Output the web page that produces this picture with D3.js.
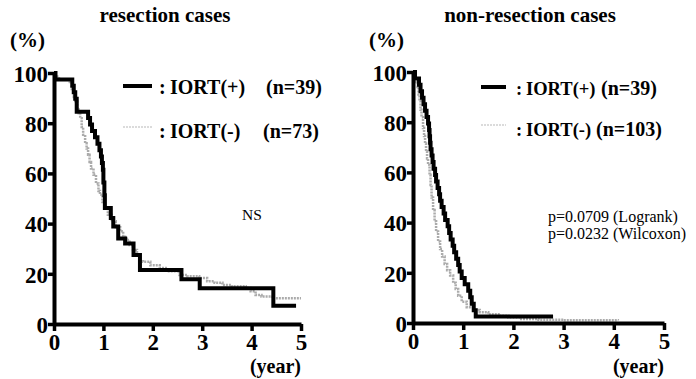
<!DOCTYPE html>
<html>
<head>
<meta charset="utf-8">
<script src="https://cdn.jsdelivr.net/npm/d3@7"></script>
<style>
    body { margin: 0; background: #fff; }
</style>
</head>
<body>
<div id="chart"></div>
<script>

// resection cases, IORT(+) n=39
var resPlusTime = [0, 0.03, 0.37, 0.40, 0.43, 0.46, 0.69, 0.73, 0.77, 0.83, 0.88, 0.92, 0.95, 0.97, 0.99, 1.00, 1.02, 1.03, 1.15, 1.20, 1.30, 1.44, 1.61, 1.74, 2.58, 2.95, 4.44, 4.90];
var resPlusSurv = [100, 97.4, 94.9, 92.3, 89.7, 84.6, 82.1, 79.5, 76.9, 74.4, 71.8, 69.2, 66.7, 64.1, 61.5, 56.4, 51.3, 46.2, 42.2, 38.8, 34.1, 32.1, 27.5, 21.5, 17.8, 14.2, 7.3, 7.3];

// resection cases, IORT(-) n=73
var resMinusTime = [0, 0.03, 0.10, 0.32, 0.36, 0.40, 0.43, 0.47, 0.50, 0.53, 0.56, 0.59, 0.63, 0.66, 0.69, 0.72, 0.75, 0.80, 0.85, 0.90, 0.93, 0.98, 1.03, 1.09, 1.17, 1.25, 1.34, 1.40, 1.47, 1.53, 1.60, 1.68, 1.75, 1.80, 1.95, 2.14, 2.30, 2.54, 2.70, 2.94, 3.10, 3.25, 3.41, 3.60, 3.88, 3.98, 4.08, 4.20, 4.42, 5.00];
var resMinusSurv = [100, 98.6, 97.3, 95.9, 93.0, 90.4, 88.8, 86.0, 84.0, 82.0, 78.5, 75.4, 72.0, 69.9, 67.4, 64.5, 62.0, 59.5, 56.0, 53.0, 51.5, 48.6, 46.2, 43.5, 40.9, 38.5, 37.0, 34.8, 33.5, 31.5, 29.5, 27.5, 25.5, 24.8, 23.4, 22.3, 21.0, 19.5, 19.0, 18.3, 17.0, 16.4, 15.5, 15.0, 14.3, 13.0, 11.6, 11.0, 10.3, 10.3];

// non-resection cases, IORT(+) n=39
var nonPlusTime = [0, 0.04, 0.12, 0.15, 0.18, 0.21, 0.24, 0.27, 0.30, 0.32, 0.33, 0.34, 0.35, 0.37, 0.39, 0.41, 0.44, 0.46, 0.49, 0.52, 0.54, 0.57, 0.61, 0.64, 0.69, 0.72, 0.75, 0.79, 0.82, 0.86, 0.90, 0.93, 0.97, 1.03, 1.10, 1.14, 1.17, 1.21, 1.25, 2.79];
var nonPlusSurv = [100, 97.4, 94.9, 92.3, 89.7, 87.2, 84.6, 82.1, 79.5, 76.9, 74.4, 71.8, 69.2, 66.7, 64.1, 61.5, 59.0, 56.4, 53.8, 51.3, 48.7, 46.2, 43.6, 41.0, 38.5, 35.9, 33.3, 30.8, 28.2, 25.6, 23.1, 20.5, 17.9, 15.4, 12.8, 10.3, 7.7, 5.1, 2.6, 2.6];

// non-resection cases, IORT(-) n=103
var nonMinusTime = [0, 0.03, 0.06, 0.09, 0.11, 0.13, 0.15, 0.17, 0.20, 0.22, 0.24, 0.26, 0.28, 0.30, 0.33, 0.35, 0.37, 0.40, 0.43, 0.46, 0.50, 0.54, 0.58, 0.63, 0.68, 0.74, 0.80, 0.85, 0.90, 0.97, 1.07, 1.20, 1.33, 1.50, 1.73, 1.90, 2.13, 2.50, 3.00, 4.08];
var nonMinusSurv = [100, 98.0, 96.0, 94.0, 91.0, 88.3, 85.0, 82.0, 77.7, 74.5, 71.5, 68.4, 65.5, 63.0, 59.1, 55.0, 50.0, 45.0, 40.5, 36.5, 32.5, 29.5, 26.5, 23.5, 21.0, 18.9, 16.0, 13.5, 10.9, 8.5, 6.3, 5.2, 4.3, 3.5, 2.9, 2.2, 1.6, 1.3, 1.1, 1.0];

var yearTicks = [0, 1, 2, 3, 4, 5];
var pctTicks = [0, 20, 40, 60, 80, 100];

var FONT = '"Liberation Serif", "Times New Roman", Times, serif';

function zip(t, s) {
    return t.map(function (d, i) { return { t: d, s: s[i] }; });
}

var svg = d3.select("#chart")
    .append("svg")
    .attr("width", 696)
    .attr("height", 379)
    .style("background", "#fff");

function label(g, x, y, txt, size, weight, anchor) {
    return g.append("text")
        .attr("x", x)
        .attr("y", y)
        .attr("font-family", FONT)
        .attr("font-size", size)
        .attr("font-weight", weight || "bold")
        .attr("text-anchor", anchor || "start")
        .attr("fill", "#000")
        .text(txt);
}

function drawPanel(p) {
    var g = svg.append("g");

    var x = d3.scaleLinear().domain([0, 5]).range([p.x0, p.x1]);
    var y = d3.scaleLinear().domain([0, 100]).range([p.y0, p.y1]);

    var line = d3.line()
        .x(function (d) { return x(d.t); })
        .y(function (d) { return y(d.s); })
        .curve(d3.curveStepAfter);

    // grey curve first so the black one sits on top
    g.append("path")
        .datum(p.minus)
        .attr("fill", "none")
        .attr("stroke", "#ababab")
        .attr("stroke-width", 2.5)
        .attr("stroke-dasharray", "2,1")
        .attr("d", line);

    g.append("path")
        .datum(p.plus)
        .attr("fill", "none")
        .attr("stroke", "#000")
        .attr("stroke-width", 4)
        .attr("d", line);

    g.append("g")
        .attr("transform", "translate(" + p.x0 + ",0)")
        .call(d3.axisLeft(y).tickValues(pctTicks).tickFormat(d3.format("d")).tickSize(6).tickSizeOuter(0).tickPadding(0))
        .call(function (a) {
            a.select(".domain").attr("stroke-width", 4);
            a.selectAll(".tick line").attr("stroke-width", 3.5);
            a.selectAll(".tick text")
                .attr("font-family", FONT)
                .attr("font-weight", "bold")
                .attr("font-size", 23)
                .attr("dy", "0.36em");
        });

    g.append("g")
        .attr("transform", "translate(0," + p.y0 + ")")
        .call(d3.axisBottom(x).tickValues(yearTicks).tickFormat(d3.format("d")).tickSize(7).tickSizeOuter(0).tickPadding(3))
        .call(function (a) {
            a.select(".domain").attr("stroke-width", 4);
            a.selectAll(".tick line").attr("stroke-width", 3.5);
            a.selectAll(".tick text")
                .attr("font-family", FONT)
                .attr("font-weight", "bold")
                .attr("font-size", 23);
        });

    label(g, p.titleX, 22, p.title, 21, "bold", "middle");
    label(g, p.x0 - 44, 47, "(%)", 21);
    label(g, p.x1, 373, "(year)", 20, "bold", "end");

    // legend
    g.append("line")
        .attr("x1", p.legX).attr("x2", p.legX + p.legW)
        .attr("y1", p.legY1).attr("y2", p.legY1)
        .attr("stroke", "#000").attr("stroke-width", 4);

    g.append("line")
        .attr("x1", p.legX).attr("x2", p.legX + p.legW)
        .attr("y1", p.legY2).attr("y2", p.legY2)
        .attr("stroke", "#cfcfcf").attr("stroke-width", 1.5)
        .attr("stroke-dasharray", "2,1");

    var rows = [
        { name: "IORT(+)", n: p.nPlus, y: p.legY1 + 8 },
        { name: "IORT(-)", n: p.nMinus, y: p.legY2 + 11 }
    ];
    rows.forEach(function (d, i) {
        label(g, p.colonX, d.y, ":", p.legSize);
        label(g, p.nameX, d.y, d.name, p.legSize);
        label(g, p.nX[i], d.y, d.n, 20);
    });

    p.notes.forEach(function (d, i) {
        label(g, p.noteX, p.noteY + i * 17, d, p.noteSize, "normal");
    });
}

drawPanel({
    title: "resection cases", titleX: 165,
    x0: 54, x1: 301, y0: 324, y1: 73,
    plus: zip(resPlusTime, resPlusSurv),
    minus: zip(resMinusTime, resMinusSurv),
    legX: 123, legW: 29, legY1: 86, legY2: 127, legSize: 20,
    colonX: 159, nameX: 170,
    nPlus: "(n=39)", nMinus: "(n=73)", nX: [266, 263],
    notes: ["NS"], noteX: 242, noteY: 220, noteSize: 15.5
});

drawPanel({
    title: "non-resection cases", titleX: 530,
    x0: 413, x1: 664, y0: 323, y1: 72,
    plus: zip(nonPlusTime, nonPlusSurv),
    minus: zip(nonMinusTime, nonMinusSurv),
    legX: 481, legW: 25, legY1: 87, legY2: 125, legSize: 18.5,
    colonX: 516, nameX: 526,
    nPlus: "(n=39)", nMinus: "(n=103)", nX: [601, 596],
    notes: ["p=0.0709 (Logrank)", "p=0.0232 (Wilcoxon)"], noteX: 548, noteY: 222, noteSize: 16
});

</script>
</body>
</html>
